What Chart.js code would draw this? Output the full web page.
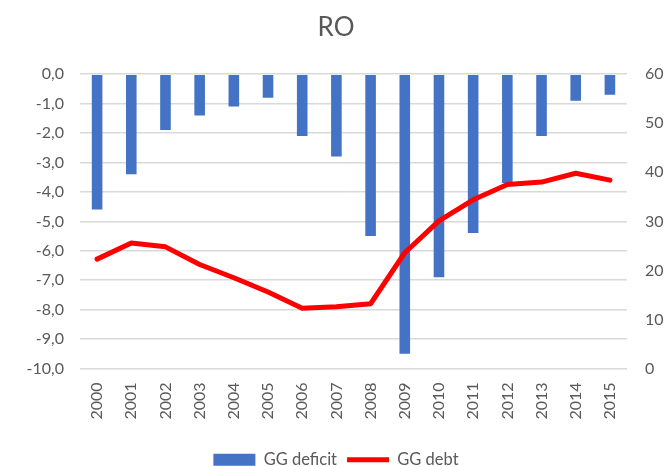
<!DOCTYPE html>
<html>
<head>
<meta charset="utf-8">
<script src="https://cdn.jsdelivr.net/npm/chart.js@4"></script>
<style>
    html, body { margin: 0; padding: 0; background: #fff; }
    #wrap { width: 672px; height: 467px; }
</style>
</head>
<body>
<div id="wrap"><canvas id="chart-ro"></canvas></div>
<script>
    // ===== 데이터 =====
    const years = ['2000', '2001', '2002', '2003', '2004', '2005', '2006', '2007',
        '2008', '2009', '2010', '2011', '2012', '2013', '2014', '2015'];
    const ggDeficit = [-4.6, -3.4, -1.9, -1.4, -1.1, -0.8, -2.1, -2.8,
        -5.5, -9.5, -6.9, -5.4, -3.7, -2.1, -0.9, -0.7];
    const ggDebt = [22.3, 25.6, 24.8, 21.2, 18.5, 15.6, 12.3, 12.6,
        13.2, 23.6, 30.1, 34.4, 37.5, 38.0, 39.8, 38.4];

    const FONT = 'Lato, "Open Sans", sans-serif';
    const GREY = '#595959';

    function commaFmt(v) {
        return v.toFixed(1).replace('.', ',');
    }

    const ctx = document.getElementById('chart-ro');
    new Chart(ctx, {
        data: {
            labels: years,
            datasets: [
                {
                    type: 'bar',
                    label: 'GG deficit',
                    data: ggDeficit,
                    backgroundColor: '#4472C4',
                    borderWidth: 0,
                    barPercentage: 0.31,
                    categoryPercentage: 1,
                    yAxisID: 'y',
                    pointStyle: 'rect',
                    order: 2
                },
                {
                    type: 'line',
                    label: 'GG debt',
                    data: ggDebt,
                    borderColor: '#FF0000',
                    backgroundColor: '#FF0000',
                    borderWidth: 5,
                    borderCapStyle: 'round',
                    borderJoinStyle: 'round',
                    pointRadius: 0,
                    tension: 0,
                    yAxisID: 'y1',
                    pointStyle: 'line',
                    order: 1
                }
            ]
        },
        options: {
            responsive: true,
            maintainAspectRatio: false,
            animation: false,
            layout: { padding: { left: 0, right: 0, top: 0, bottom: -11 } },
            plugins: {
                title: {
                    display: true,
                    text: 'RO',
                    color: GREY,
                    font: { family: FONT, size: 26, weight: 'normal' },
                    padding: { top: 12, bottom: 31 }
                },
                legend: {
                    position: 'bottom',
                    labels: {
                        usePointStyle: true,
                        pointStyleWidth: 42,
                        boxHeight: 12,
                        color: GREY,
                        font: { family: FONT, size: 16.5 },
                        padding: 10,
                        sort: function (a, b) { return a.datasetIndex - b.datasetIndex; }
                    }
                },
                tooltip: { enabled: false }
            },
            scales: {
                x: {
                    grid: { display: false, drawTicks: false },
                    border: { display: false },
                    ticks: {
                        color: GREY,
                        font: { family: FONT, size: 16 },
                        minRotation: 90,
                        maxRotation: 90,
                        padding: 14
                    },
                    afterFit: function (scale) { scale.height = 73; }
                },
                y: {
                    position: 'left',
                    min: -10,
                    max: 0,
                    grid: { color: '#d9d9d9', lineWidth: 1.5, drawTicks: false },
                    border: { display: false },
                    ticks: {
                        stepSize: 1,
                        color: GREY,
                        font: { family: FONT, size: 16 },
                        padding: 16,
                        callback: function (v) { return commaFmt(v); }
                    },
                    afterFit: function (scale) { scale.width = 80; }
                },
                y1: {
                    position: 'right',
                    min: 0,
                    max: 60,
                    grid: { display: false, drawTicks: false },
                    border: { display: false },
                    ticks: {
                        stepSize: 10,
                        color: GREY,
                        font: { family: FONT, size: 16 },
                        padding: 18
                    },
                    afterFit: function (scale) { scale.width = 45; }
                }
            }
        }
    });
</script>
</body>
</html>
